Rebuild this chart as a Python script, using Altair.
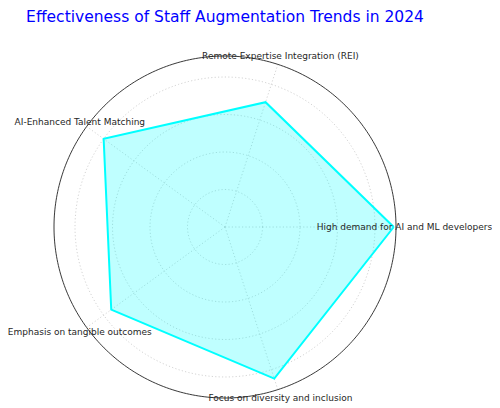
import altair as alt
import pandas as pd

categories = [
    "High demand for AI and ML developers",
    "Remote Expertise Integration (REI)",
    "AI-Enhanced Talent Matching",
    "Emphasis on tangible outcomes",
    "Focus on diversity and inclusion",
]
values = [90, 70, 80, 75, 85]
ring_values = [20, 40, 60, 80]
R_OUT = 91.2
LABEL_R = 95.7
N = len(categories)

rows = [{"category": c, "value": v, "idx": i} for i, (c, v) in enumerate(zip(categories, values))]
poly = pd.DataFrame(rows + [{"category": categories[0], "value": values[0], "idx": N}])
cats = pd.DataFrame(rows)

# layout (pixels)
W, H = 484, 376
CX, CY, PX = 217, 195, 171

xs = alt.Scale(domain=[-R_OUT, R_OUT], range=[CX - PX, CX + PX])
ys = alt.Scale(domain=[-R_OUT, R_OUT], range=[CY + PX, CY - PX])

def X(f):
    return alt.X(f, type="quantitative", scale=xs, axis=None)

def Y(f):
    return alt.Y(f, type="quantitative", scale=ys, axis=None)

ang = f"datum.idx * 2 * PI / {N}"

rings = (
    alt.Chart(alt.sequence(0, 362, 2, as_="deg"))
    .transform_calculate(rs=str(ring_values))
    .transform_flatten(["rs"])
    .transform_calculate(
        x="datum.rs * cos(datum.deg * PI / 180)",
        y="datum.rs * sin(datum.deg * PI / 180)",
    )
    .mark_line(stroke="#c8c8c8", strokeWidth=0.8, strokeDash=[1.2, 2.2])
    .encode(x=X("x"), y=Y("y"), detail="rs:N", order="deg:Q")
)

outer = (
    alt.Chart(alt.sequence(0, 361, 1, as_="deg"))
    .transform_calculate(
        x=f"{R_OUT} * cos(datum.deg * PI / 180)",
        y=f"{R_OUT} * sin(datum.deg * PI / 180)",
    )
    .mark_line(stroke="#222222", strokeWidth=0.9)
    .encode(x=X("x"), y=Y("y"), order="deg:Q")
)

spokes = (
    alt.Chart(cats)
    .transform_calculate(
        x0="0", y0="0",
        x1=f"{R_OUT} * cos({ang})",
        y1=f"{R_OUT} * sin({ang})",
    )
    .mark_rule(stroke="#c8c8c8", strokeWidth=0.8, strokeDash=[1.2, 2.2])
    .encode(x=X("x0"), y=Y("y0"), x2="x1:Q", y2="y1:Q")
)

area = (
    alt.Chart(poly)
    .transform_calculate(
        x=f"datum.value * cos({ang})",
        y=f"datum.value * sin({ang})",
    )
    .mark_line(fill="#00ffff", fillOpacity=0.25, stroke="#00ffff", strokeWidth=2)
    .encode(x=X("x"), y=Y("y"), order="idx:Q")
)

labels = (
    alt.Chart(cats)
    .transform_calculate(
        x=f"{LABEL_R} * cos({ang})",
        y=f"{LABEL_R} * sin({ang})",
    )
    .mark_text(align="center", baseline="middle", fontSize=9.0, font="DejaVu Sans", color="#262626")
    .encode(x=X("x"), y=Y("y"), text="category:N")
)

chart = (
    alt.layer(rings, spokes, outer, area, labels)
    .properties(
        width=W,
        height=H,
        autosize=alt.AutoSizeParams(type="none"),
        padding={"left": 0, "top": 24, "right": 0, "bottom": 0},
        title=alt.Title(
            "Effectiveness of Staff Augmentation Trends in 2024",
            color="#0000ff",
            fontSize=15.5,
            font="DejaVu Sans",
            fontWeight="normal",
            anchor="middle",
            dx=-25,
            offset=7,
        ),
    )
    .configure_view(stroke=None)
)

chart.save("out.html", embed_options={"renderer": "svg", "actions": False})
